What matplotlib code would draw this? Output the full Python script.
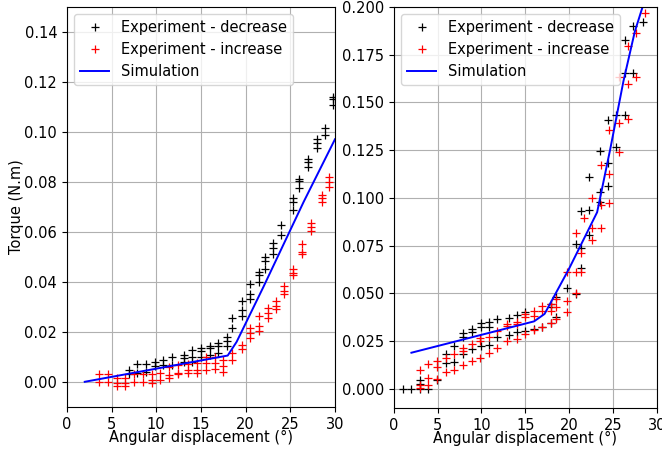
import numpy as np
import matplotlib
matplotlib.use('Agg')
import matplotlib.pyplot as plt

# left panel: experiment, decreasing angle
l_dec_x = [6.9, 6.9, 7.9, 7.9, 8.8, 8.8, 9.9, 9.9, 10.8, 10.8, 11.8, 11.8,
           13.1, 13.1, 13.1, 14.0, 14.0, 14.0, 15.0, 15.0, 15.0,
           16.0, 16.0, 16.0, 16.9, 16.9, 16.9, 17.9, 17.9, 17.9,
           18.5, 18.5, 19.6, 19.6, 19.6, 20.5, 20.5, 20.5, 21.5, 21.5, 21.5,
           22.2, 22.2, 22.2, 23.1, 23.1, 23.1, 24.0, 24.0,
           25.3, 25.3, 25.3, 26.0, 26.0, 26.0, 27.0, 27.0, 27.0,
           28.0, 28.0, 28.0, 28.9, 28.9, 29.8, 29.8, 29.8]
l_dec_y = [0.0048, 0.0032, 0.0071, 0.0037, 0.0071, 0.0040, 0.0079, 0.0064,
           0.0088, 0.0068, 0.0101, 0.0068,
           0.0108, 0.0095, 0.0081, 0.0128, 0.0101, 0.0081, 0.0135, 0.0125, 0.0101,
           0.0144, 0.0135, 0.0108, 0.0157, 0.0144, 0.0117, 0.0179, 0.0165, 0.0145,
           0.0256, 0.0216, 0.0325, 0.0288, 0.0264, 0.0392, 0.0352, 0.0333,
           0.0440, 0.0428, 0.0401, 0.0499, 0.0484, 0.0451, 0.0557, 0.0537, 0.0513,
           0.0626, 0.0589, 0.0735, 0.0721, 0.0688, 0.0812, 0.0803, 0.0775,
           0.0891, 0.0881, 0.0859, 0.0971, 0.0957, 0.0937, 0.1017, 0.0988,
           0.1141, 0.1131, 0.1108]

# left panel: experiment, increasing angle
l_inc_x = [3.6, 3.6, 4.6, 4.6, 5.6, 5.6, 5.6, 6.5, 6.5, 6.5, 7.5, 7.5,
           8.5, 8.5, 9.5, 9.5, 9.5, 10.4, 10.4, 11.4, 11.4, 11.4,
           12.4, 12.4, 12.4, 13.6, 13.6, 13.6, 14.6, 14.6, 14.6,
           15.6, 15.6, 15.6, 16.6, 16.6, 16.6, 17.5, 17.5, 17.5,
           18.5, 18.5, 19.6, 19.6, 20.5, 20.5, 20.5, 21.5, 21.5, 21.5,
           22.5, 22.5, 22.5, 23.4, 23.4, 23.4, 24.3, 24.3, 24.3,
           25.3, 25.3, 25.3, 26.3, 26.3, 26.3, 27.3, 27.3, 27.3,
           28.6, 28.6, 28.6, 29.3, 29.3, 29.3]
l_inc_y = [0.0032, 0.0001, 0.0030, 0.0000, 0.0015, -0.0003, -0.0015,
           0.0015, -0.0003, -0.0015, 0.0030, 0.0001, 0.0030, 0.0000,
           0.0032, 0.0008, -0.0003, 0.0037, 0.0008, 0.0061, 0.0028, 0.0016,
           0.0067, 0.0037, 0.0030, 0.0072, 0.0048, 0.0037, 0.0075, 0.0048, 0.0037,
           0.0101, 0.0075, 0.0048, 0.0101, 0.0075, 0.0050, 0.0088, 0.0065, 0.0039,
           0.0117, 0.0088, 0.0148, 0.0130, 0.0215, 0.0195, 0.0176,
           0.0264, 0.0224, 0.0205, 0.0295, 0.0275, 0.0257, 0.0325, 0.0304, 0.0293,
           0.0384, 0.0365, 0.0352, 0.0450, 0.0437, 0.0427, 0.0551, 0.0521, 0.0512,
           0.0635, 0.0621, 0.0605, 0.0748, 0.0735, 0.0721, 0.0821, 0.0801, 0.0781]

l_sim_x = [2, 18, 19, 22, 26.5, 30]
l_sim_y = [0.0, 0.0105, 0.016, 0.038, 0.072, 0.097]

# right panel: experiment, decreasing angle
r_dec_x = [1.0, 2.0, 3.0, 3.0, 3.0, 3.9, 4.9, 5.9, 5.9, 6.9, 6.9,
           7.9, 7.9, 7.9, 8.9, 8.9, 8.9, 9.9, 9.9, 9.9, 10.8, 10.8, 10.8,
           11.8, 11.8, 13.1, 13.1, 14.0, 14.0, 15.0, 15.0, 16.0, 16.9,
           17.9, 17.9, 17.9, 18.5, 18.5, 19.8, 20.8, 20.8,
           21.4, 21.4, 21.4, 22.3, 22.3, 22.3, 23.5, 23.5, 23.5,
           24.4, 24.4, 24.4, 25.4, 25.4, 26.4, 26.4, 26.4, 27.3, 27.3, 28.4]
r_dec_y = [0.0, 0.0, 0.0046, 0.0027, 0.0, 0.0, 0.0046, 0.0182, 0.0137,
           0.0226, 0.0143, 0.0293, 0.0270, 0.0185, 0.0314, 0.0296, 0.0208,
           0.0343, 0.0322, 0.0226, 0.0349, 0.0326, 0.0231, 0.0367, 0.0270,
           0.0372, 0.0284, 0.0389, 0.0296, 0.0401, 0.0305, 0.0314, 0.0326,
           0.0446, 0.0428, 0.0343, 0.0481, 0.0375, 0.0530, 0.0499, 0.0758,
           0.0631, 0.0736, 0.0933, 0.0807, 0.0935, 0.1110, 0.0977, 0.1030, 0.1247,
           0.1060, 0.1180, 0.1405, 0.1268, 0.1435, 0.1435, 0.1652, 0.1828,
           0.1652, 0.1898, 0.1920]

# right panel: experiment, increasing angle
r_inc_x = [3.0, 3.0, 3.0, 3.9, 3.9, 3.9, 4.9, 4.9, 4.9, 5.9, 5.9, 6.9, 6.9,
           7.9, 7.9, 7.9, 8.9, 8.9, 9.8, 9.8, 9.8, 10.8, 10.8, 11.8, 11.8,
           12.9, 12.9, 12.9, 14.0, 14.0, 14.0, 15.0, 15.0, 15.0,
           16.0, 16.0, 16.0, 16.9, 16.9, 16.9, 17.9, 17.9, 17.9,
           18.5, 18.5, 18.5, 19.8, 19.8, 19.8, 20.8, 20.8, 20.8, 21.4, 21.4,
           21.7, 22.6, 22.6, 22.6, 23.6, 23.6, 23.6, 24.6, 24.6, 24.6,
           25.7, 25.7, 25.7, 26.7, 26.7, 26.7, 27.6, 27.6, 28.7]
r_inc_y = [0.0099, 0.0020, 0.0005, 0.0129, 0.0058, 0.0023, 0.0146, 0.0115, 0.0050,
           0.0160, 0.0088, 0.0185, 0.0097, 0.0213, 0.0199, 0.0124, 0.0235, 0.0146,
           0.0266, 0.0252, 0.0164, 0.0273, 0.0190, 0.0305, 0.0217,
           0.0340, 0.0331, 0.0252, 0.0349, 0.0340, 0.0261, 0.0393, 0.0375, 0.0287,
           0.0410, 0.0384, 0.0309, 0.0432, 0.0410, 0.0326, 0.0446, 0.0410, 0.0343,
           0.0472, 0.0428, 0.0367, 0.0613, 0.0463, 0.0401, 0.0816, 0.0613, 0.0502,
           0.0710, 0.0613, 0.0895, 0.1000, 0.0842, 0.0780, 0.1170, 0.0965, 0.0842,
           0.1356, 0.1123, 0.0974, 0.1634, 0.1393, 0.1238, 0.1796, 0.1594, 0.1414,
           0.1863, 0.1634, 0.1969]

r_sim_x = [2, 16, 17.2, 20, 23.2, 24.7, 26.2, 27.5, 28.6]
r_sim_y = [0.019, 0.0354, 0.0393, 0.063, 0.0925, 0.1256, 0.161, 0.187, 0.203]

fs = 10.5

fig = plt.figure(figsize=(6.62, 4.5), dpi=100)
ax1 = fig.add_axes([0.101, 0.096, 0.405, 0.889])
ax2 = fig.add_axes([0.595, 0.093, 0.397, 0.892])

for ax, dx, dy, ix, iy, sx, sy in [
        (ax1, l_dec_x, l_dec_y, l_inc_x, l_inc_y, l_sim_x, l_sim_y),
        (ax2, r_dec_x, r_dec_y, r_inc_x, r_inc_y, r_sim_x, r_sim_y)]:
    ax.plot(dx, dy, 'k+', ms=6, mew=0.9, label='Experiment - decrease')
    ax.plot(ix, iy, 'r+', ms=6, mew=0.9, label='Experiment - increase')
    ax.plot(sx, sy, 'b-', lw=1.4, label='Simulation')
    ax.grid(True, color='#b0b0b0', lw=0.8)
    ax.set_axisbelow(True)
    ax.set_xlim(0, 30)
    ax.set_xticks(np.arange(0, 31, 5))
    ax.tick_params(labelsize=fs)
    ax.set_xlabel('Angular displacement (°)', fontsize=fs, labelpad=-1)
    ax.legend(loc='upper left', fontsize=fs, handlelength=2.0)

ax1.set_ylim(-0.01, 0.15)
ax1.set_yticks(np.arange(0, 0.141, 0.02))
ax1.set_ylabel('Torque (N.m)', fontsize=fs, labelpad=0)
ax2.set_ylim(-0.01, 0.2)
ax2.set_yticks(np.arange(0, 0.201, 0.025))

plt.savefig('out.png', dpi=100)
